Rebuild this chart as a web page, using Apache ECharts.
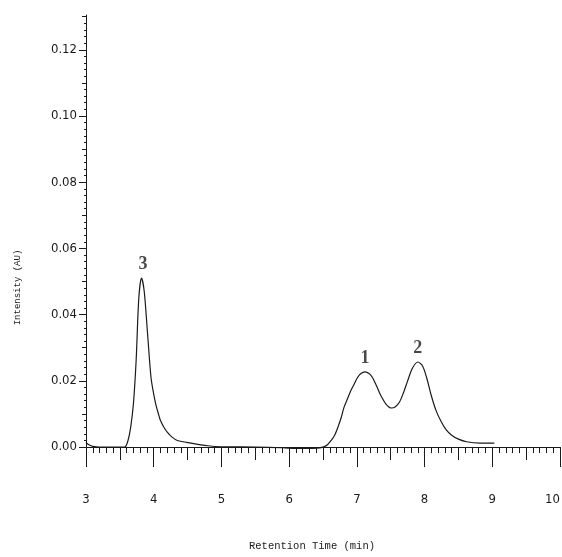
<!DOCTYPE html>
<html>
<head>
<meta charset="utf-8">
<title>Retention time chromatogram</title>
<script src="https://cdn.jsdelivr.net/npm/echarts@6/dist/echarts.min.js"></script>
<style>
  html, body { margin: 0; padding: 0; background: #fff; }
  #chart { width: 562px; height: 557px; }
</style>
</head>
<body>
<div id="chart"></div>
<script>
// chromatogram trace (min, AU)
const retentionTimes = [
  3.00, 3.05, 3.10, 3.20, 3.40, 3.57, 3.62, 3.66, 3.70, 3.74,
  3.78, 3.82, 3.86, 3.91, 3.96, 4.00, 4.03, 4.07, 4.10, 4.15,
  4.20, 4.27, 4.35, 4.55, 4.80, 5.00, 5.50, 5.90, 6.10, 6.40,
  6.50, 6.57, 6.62, 6.67, 6.72, 6.77, 6.81, 6.86, 6.91, 6.96,
  7.01, 7.06, 7.12, 7.18, 7.23, 7.29, 7.35, 7.43, 7.51, 7.57,
  7.63, 7.69, 7.75, 7.82, 7.90, 7.97, 8.03, 8.10, 8.17, 8.25,
  8.32, 8.40, 8.50, 8.62, 8.82, 9.03
];
const intensities = [
  0.0014, 0.0006, 0.0002, 0.0000, 0.0000, 0.0000, 0.0020, 0.0060, 0.0130, 0.0260,
  0.0450, 0.0510, 0.0470, 0.0340, 0.0210, 0.0160, 0.0130, 0.0100, 0.0080, 0.0060,
  0.0045, 0.0030, 0.0020, 0.0012, 0.0004, 0.0001, 0.0000, -0.0002, -0.0004, -0.0003,
  0.0000, 0.0008, 0.0020, 0.0035, 0.0060, 0.0090, 0.0120, 0.0145, 0.0170, 0.0190,
  0.0210, 0.0222, 0.0227, 0.0222, 0.0210, 0.0185, 0.0157, 0.0130, 0.0118, 0.0122,
  0.0136, 0.0165, 0.0200, 0.0238, 0.0257, 0.0245, 0.0210, 0.0155, 0.0110, 0.0075,
  0.0052, 0.0036, 0.0024, 0.0016, 0.0012, 0.0012
];

// peak annotations
const peakNames = ['3', '1', '2'];
const peakTimes = [3.84, 7.12, 7.90];
const peakHeights = [0.0510, 0.0227, 0.0257];

// axis ticks
const yMajorTicks = [0, 0.02, 0.04, 0.06, 0.08, 0.10, 0.12];
const yMidTicks = [0.01, 0.03, 0.05, 0.07, 0.09, 0.11, 0.13];
const yMinorTicks = [];
for (let i = 0; i <= 65; i++) yMinorTicks.push(+(i * 0.002).toFixed(3));

const chart = echarts.init(document.getElementById('chart'), null, { renderer: 'canvas' });

const Y_MIN = -0.0033, Y_MAX = 0.1305;
const ink = '#1a1a1a';
const labelFont = '"Liberation Sans Narrow", "DejaVu Sans Condensed", sans-serif';
const monoFont = '"Liberation Mono", "DejaVu Sans Mono", monospace';

function yAxisLayer(ticks, len, extra) {
  return Object.assign({
    type: 'value',
    position: 'left',
    offset: 0,
    min: Y_MIN,
    max: Y_MAX,
    axisLine: { show: false },
    axisTick: { show: true, customValues: ticks, length: len, lineStyle: { color: ink, width: 1 } },
    axisLabel: { show: false },
    splitLine: { show: false }
  }, extra || {});
}

const option = {
  animation: false,
  backgroundColor: '#fff',
  grid: { left: 86, right: 2, top: 15, bottom: 99, containLabel: false, outerBoundsMode: 'none' },
  xAxis: [
    {
      type: 'value',
      position: 'bottom',
      min: 3,
      max: 10,
      interval: 1,
      name: 'Retention Time (min)',
      nameLocation: 'middle',
      nameGap: 83,
      nameTextStyle: { fontFamily: monoFont, fontSize: 10.5, color: ink, padding: [0, 22, 0, 0] },
      axisLine: { show: true, lineStyle: { color: ink, width: 1 } },
      axisTick: { show: true, length: 20, lineStyle: { color: ink } },
      minorTick: { show: true, splitNumber: 10, length: 6, lineStyle: { color: ink } },
      axisLabel: { margin: 35, fontFamily: labelFont, fontSize: 13, color: ink, alignMaxLabel: 'right' },
      splitLine: { show: false },
      minorSplitLine: { show: false }
    },
    {
      type: 'value',
      position: 'bottom',
      offset: 0,
      min: 3,
      max: 10,
      interval: 0.5,
      axisLine: { show: false },
      axisTick: { show: true, length: 13, lineStyle: { color: ink } },
      axisLabel: { show: false },
      splitLine: { show: false }
    }
  ],
  yAxis: [
    yAxisLayer(yMajorTicks, 7, {
      name: 'Intensity (AU)',
      nameLocation: 'middle',
      nameGap: 64,
      nameTextStyle: { fontFamily: monoFont, fontSize: 9, color: ink, padding: [0, 102, 0, 0] },
      axisLine: { show: true, lineStyle: { color: ink, width: 1 } },
      axisLabel: {
        show: true,
        customValues: yMajorTicks,
        margin: 9,
        fontFamily: labelFont,
        fontSize: 13,
        color: ink,
        formatter: v => v.toFixed(2)
      }
    }),
    yAxisLayer(yMidTicks, 4),
    yAxisLayer(yMinorTicks, 2)
  ],
  series: [
    {
      name: 'trace',
      type: 'line',
      xAxisIndex: 0,
      yAxisIndex: 0,
      data: retentionTimes.map((t, i) => [t, intensities[i]]),
      smooth: 0.3,
      showSymbol: false,
      lineStyle: { color: ink, width: 1.2 }
    },
    {
      name: 'peaks',
      type: 'scatter',
      xAxisIndex: 0,
      yAxisIndex: 0,
      symbolSize: 0,
      data: peakTimes.map((t, i) => [t, peakHeights[i], peakNames[i]]),
      label: {
        show: true,
        position: 'top',
        distance: 5,
        formatter: p => p.value[2],
        fontFamily: '"Liberation Serif", "DejaVu Serif", serif',
        fontWeight: 'bold',
        fontSize: 18,
        color: ink
      }
    }
  ]
};

chart.setOption(option);
window.addEventListener('resize', () => chart.resize());
</script>
</body>
</html>
